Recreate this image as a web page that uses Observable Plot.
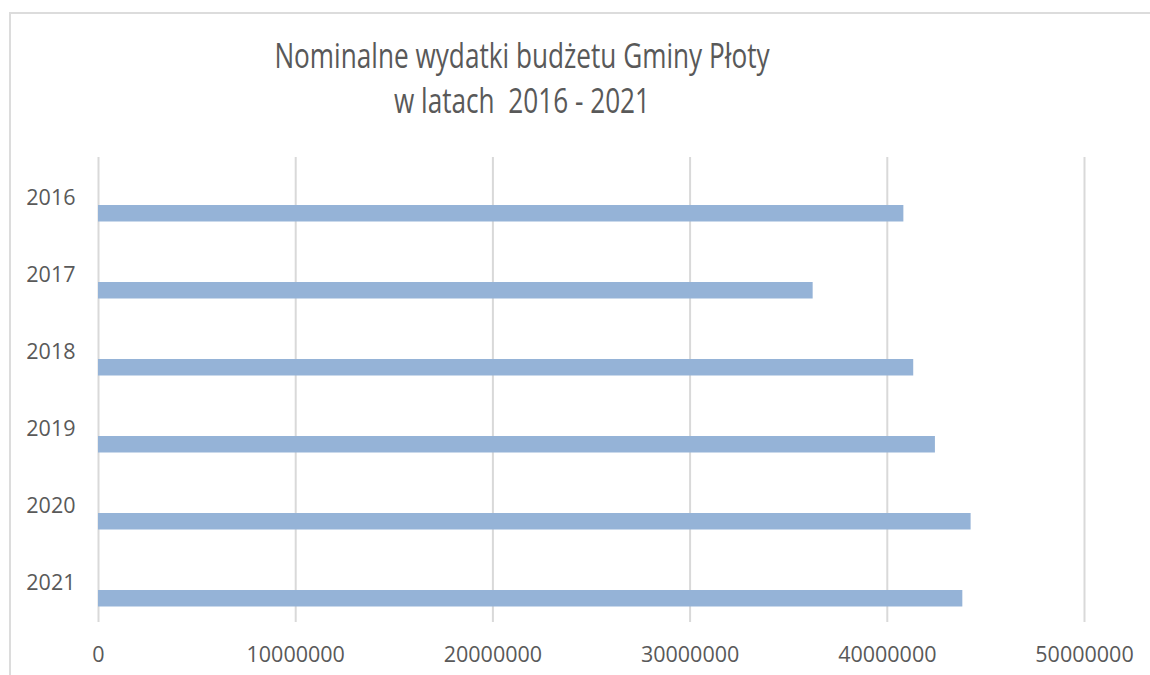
<!DOCTYPE html>
<html>
<head>
<meta charset="utf-8">
<script src="https://cdn.jsdelivr.net/npm/d3@7"></script>
<script src="https://cdn.jsdelivr.net/npm/@observablehq/plot@0.6"></script>
<style>
  html, body { margin: 0; padding: 0; background: #fff; }
  #wrap { position: relative; width: 1150px; height: 675px; overflow: hidden; }
  #frame { position: absolute; left: 9px; top: 12px; width: 1200px; height: 700px;
           border-left: 2px solid #dcdcdc; border-top: 2px solid #dcdcdc; box-sizing: border-box; }
  .title { position: absolute; left: 122px; width: 800px; text-align: center; white-space: pre;
           font-family: "Open Sans", sans-serif; font-size: 34px; line-height: 1; color: #595959;
           transform: scaleX(0.77); transform-origin: 50% 50%; }
  #chart { position: absolute; left: 0; top: 0; }
</style>
</head>
<body>
<div id="wrap">
  <div id="frame"></div>
  <div id="chart"></div>
  <div class="title" style="top:38px">Nominalne wydatki budżetu Gminy Płoty</div>
  <div class="title" style="top:83px">w latach  2016 - 2021</div>
</div>
<script>
const years = ["2016", "2017", "2018", "2019", "2020", "2021"];
const spending = [40840000, 36240000, 41340000, 42440000, 44250000, 43830000];
const xTicks = [0, 10000000, 20000000, 30000000, 40000000, 50000000];

const data = years.map((year, i) => ({year, value: spending[i]}));

const chart = Plot.plot({
  width: 1150,
  height: 675,
  marginLeft: 98,
  marginRight: 66,
  marginTop: 157,
  marginBottom: 53,
  style: {fontFamily: "'Open Sans', sans-serif", fontSize: "21.5px", color: "#595959", background: "transparent", overflow: "visible"},
  x: {domain: [0, 50000000]},
  y: {domain: years, padding: 0},
  marks: [
    Plot.gridX(xTicks, {stroke: "#d9d9d9", strokeWidth: 2, strokeOpacity: 1}),
    Plot.barX(data, {x: "value", y: "year", fill: "#95b3d7", insetTop: 46, insetBottom: 14.5}),
    Plot.axisX({ticks: xTicks, tickFormat: d3.format("d"), tickSize: 0, tickPadding: 24, label: null}),
    Plot.axisY({tickSize: 0, tickPadding: 23, label: null})
  ]
});
document.getElementById("chart").appendChild(chart);
</script>
</body>
</html>
